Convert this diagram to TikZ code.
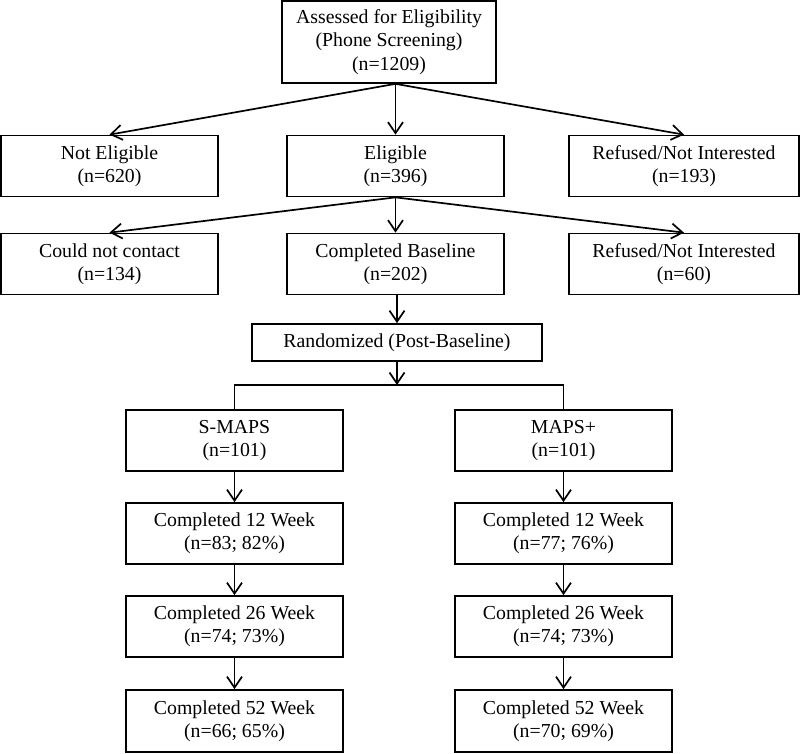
\documentclass[tikz,border=0pt]{standalone}
\usepackage{fontspec}
\setmainfont{Liberation Serif}
\usetikzlibrary{arrows.meta,positioning,calc}

\tikzset{
  flowbox/.style={draw,rectangle,line width=1.7pt,inner sep=0pt,align=center,
    minimum width=217pt,minimum height=61pt,font=\fontsize{19.8}{23.3}\selectfont},
  flowarrow/.style={line width=1.7pt,-{Straight Barb[length=11pt,width=15pt,line width=1.7pt]}},
}

\begin{document}
\begin{tikzpicture}[x=1pt,y=-1pt]
    \useasboundingbox (0,0) rectangle (800,753);

    % screening
    \node[flowbox,minimum width=214pt,minimum height=82pt] (assess) at (389,42)
        {Assessed for Eligibility\\(Phone Screening)\\(n=1209)};
    \node[flowbox] (notelig) at (109.5,166) {Not Eligible\\(n=620)};
    \node[flowbox] (elig) at (395.5,166) {Eligible\\(n=396)};
    \node[flowbox,minimum width=230pt] (refint) at (684,166) {Refused/Not Interested\\(n=193)};

    % baseline
    \node[flowbox] (nocontact) at (109.5,264) {Could not contact\\(n=134)};
    \node[flowbox] (baseline) at (395.5,264) {Completed Baseline\\(n=202)};
    \node[flowbox,minimum width=230pt] (refbase) at (684,264) {Refused/Not Interested\\(n=60)};

    \node[flowbox,minimum width=290pt,minimum height=37pt] (random) at (397,342.5)
        {Randomized (Post-Baseline)};
    \coordinate (split) at (397,385);

    % arms
    \node[flowbox] (smaps) at (234.5,440.5) {S-MAPS\\(n=101)};
    \node[flowbox] (smapsA) at (234.5,533.5) {Completed 12 Week\\(n=83; 82\%)};
    \node[flowbox] (smapsB) at (234.5,626.5) {Completed 26 Week\\(n=74; 73\%)};
    \node[flowbox,minimum height=62pt] (smapsC) at (234.5,721) {Completed 52 Week\\(n=66; 65\%)};

    \node[flowbox] (mapsplus) at (563.5,440.5) {MAPS+\\(n=101)};
    \node[flowbox] (mapsplusA) at (563.5,533.5) {Completed 12 Week\\(n=77; 76\%)};
    \node[flowbox] (mapsplusB) at (563.5,626.5) {Completed 26 Week\\(n=74; 73\%)};
    \node[flowbox,minimum height=62pt] (mapsplusC) at (563.5,721) {Completed 52 Week\\(n=70; 69\%)};

    % connectors
    \draw[flowarrow] (assess.south -| elig.north) -- (notelig.north);
    \draw[flowarrow] (assess.south -| elig.north) -- (elig.north);
    \draw[flowarrow] (assess.south -| elig.north) -- (refint.north);
    \draw[flowarrow] (elig.south) -- (nocontact.north);
    \draw[flowarrow] (elig.south) -- (baseline.north);
    \draw[flowarrow] (elig.south) -- (refbase.north);
    \draw[flowarrow] (baseline.south -| random.north) -- (random.north);
    \draw[flowarrow] (random.south) -- (split);
    \draw[line width=1.7pt] (smaps.north) |- (split) -| (mapsplus.north);
    \draw[flowarrow] (smaps) -- (smapsA);
    \draw[flowarrow] (smapsA) -- (smapsB);
    \draw[flowarrow] (smapsB) -- (smapsC);
    \draw[flowarrow] (mapsplus) -- (mapsplusA);
    \draw[flowarrow] (mapsplusA) -- (mapsplusB);
    \draw[flowarrow] (mapsplusB) -- (mapsplusC);
\end{tikzpicture}
\end{document}
